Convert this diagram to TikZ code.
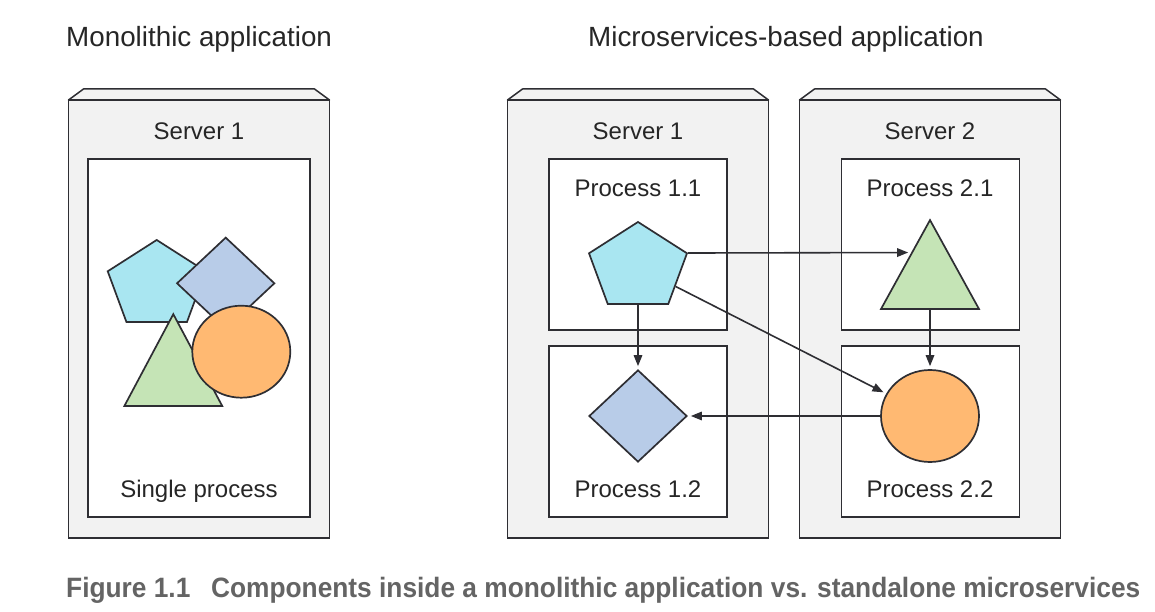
\documentclass[tikz,border=0pt]{standalone}
\usepackage{fontspec}
\usepackage{graphicx}
\setmainfont{Liberation Sans}
\usetikzlibrary{shapes.geometric, arrows.meta, calc}

\definecolor{srvgray}{HTML}{F2F2F2}
\definecolor{edge}{HTML}{2E2E33}
\definecolor{pentcol}{HTML}{A9E6F1}
\definecolor{diamcol}{HTML}{B8CCE8}
\definecolor{tricol}{HTML}{C5E4B6}
\definecolor{circcol}{HTML}{FFB972}
\definecolor{capgray}{HTML}{646464}

\begin{document}
\begin{tikzpicture}[
  x=1pt, y=-1pt,
  server/.style={draw=edge, line width=1.8pt, fill=srvgray, inner sep=0pt, outer sep=0pt, minimum width=261pt, minimum height=438pt},
  bevel/.style={draw=edge, line width=1.5pt, fill=srvgray, line join=round},
  proc/.style={draw=edge, line width=1.8pt, fill=white, inner sep=0pt},
  lbl/.style={anchor=base, text=black!85, font=\fontsize{24}{28}\selectfont, inner sep=0pt},
  title/.style={anchor=base west, text=black!85, font=\fontsize{27.8}{32}\selectfont, inner sep=0pt},
  shp/.style={draw=edge, line width=1.7pt, inner sep=0pt},
  pent/.style={shp, regular polygon, regular polygon sides=5, fill=pentcol, minimum size=103pt, yscale=0.88},
  tri/.style={shp, regular polygon, regular polygon sides=3, fill=tricol, minimum size=113pt},
  diam/.style={shp, diamond, fill=diamcol, minimum width=98pt, minimum height=92pt},
  circ/.style={shp, ellipse, fill=circcol, minimum width=98pt, minimum height=92pt},
  arrow/.style={-{Triangle[length=11pt, width=8.5pt]}, draw=edge, line width=1.6pt, shorten >=3pt},
]
\useasboundingbox (0,0) rectangle (1155,612);

% Titles
\node[title] (tmono) at (66,47) {Monolithic application};
\node[title] (tmicro) at (588,47) {Microservices-based application};

% Servers
\node[server] (mono) at (199,319) {};
\node[server] (srv1) at (638,319) {};
\node[server] (srv2) at (930,319) {};
\draw[bevel] (mono.north west) -- ++(15,-11) -- ($(mono.north east)+(-15,-11)$) -- (mono.north east) -- cycle;
\draw[bevel] (srv1.north west) -- ++(15,-11) -- ($(srv1.north east)+(-15,-11)$) -- (srv1.north east) -- cycle;
\draw[bevel] (srv2.north west) -- ++(15,-11) -- ($(srv2.north east)+(-15,-11)$) -- (srv2.north east) -- cycle;

\node[lbl] (lmono) at (199,140) {Server 1};
\node[lbl] (lsrv1) at (638,140) {Server 1};
\node[lbl] (lsrv2) at (930,140) {Server 2};

% Processes
\node[proc, minimum width=222pt, minimum height=358pt] (single) at (199,338) {};
\node[proc, minimum width=178pt, minimum height=171pt] (pr11) at (638,244.5) {};
\node[proc, minimum width=178pt, minimum height=171pt] (pr12) at (638,431.5) {};
\node[proc, minimum width=178pt, minimum height=171pt] (pr21) at (930.5,244.5) {};
\node[proc, minimum width=178pt, minimum height=171pt] (pr22) at (930.5,431.5) {};

\node[lbl] (lsingle) at (199,497) {Single process};
\node[lbl] (l11) at (638,197) {Process 1.1};
\node[lbl] (l12) at (638,497) {Process 1.2};
\node[lbl] (l21) at (930,197) {Process 2.1};
\node[lbl] (l22) at (930,497) {Process 2.2};

% Components, monolith
\node[pent] (mpent) at (156.7,285.3) {};
\node[diam] (mdiam) at (225.7,283.3) {};
\node[tri, yscale=1.084] (mtri) at (173.3,375.4) {};
\node[circ] (mcirc) at (241.3,351.7) {};

% Components, microservices
\node[pent] (p11) at (638,267.3) {};
\node[diam] (d12) at (638,416) {};
\node[tri, yscale=1.048] (t21) at (930,279.3) {};
\node[circ] (c22) at (930,416) {};

\draw[arrow] (p11.corner 5) -- ($(t21.corner 1)!0.374!(t21.corner 2)$);
\draw[arrow] (p11.south) -- (d12.north);
\draw[arrow] (p11) -- (c22);
\draw[arrow] (t21.south) -- (c22.north);
\draw[arrow] (c22.west) -- (d12.east);

% Caption
\node[anchor=base west, inner sep=0pt, text=capgray, font=\bfseries\fontsize{28}{32}\selectfont] (cap) at (66,597)
  {\resizebox{1074pt}{\height}{Figure 1.1\hspace{22pt}Components inside a monolithic application vs. standalone microservices}};

\end{tikzpicture}
\end{document}
